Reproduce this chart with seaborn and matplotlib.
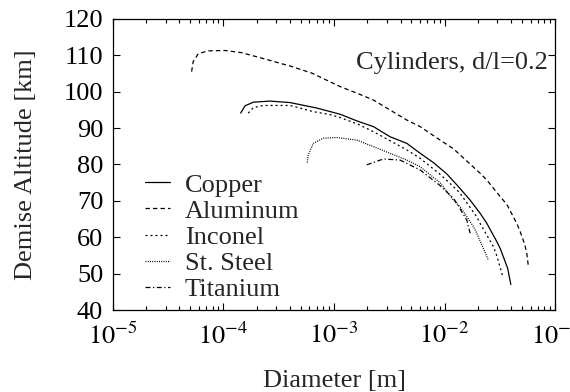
import numpy as np
import pandas as pd
import matplotlib
matplotlib.use("Agg")
import matplotlib.pyplot as plt
import seaborn as sns

materials = ["Copper", "Aluminum", "Inconel", "St. Steel", "Titanium"]

copper_d = [1.432e-4, 1.567e-4, 1.862e-4, 2.636e-4, 4.000e-4, 6.966e-4, 1.132e-3, 1.660e-3,
            2.270e-3, 3.214e-3, 4.550e-3, 5.998e-3, 7.925e-3, 1.047e-2, 1.334e-2, 1.702e-2,
            2.094e-2, 2.410e-2, 2.965e-2, 3.177e-2, 3.715e-2, 3.972e-2]
copper_h = [94.1, 96.1, 97.1, 97.4, 97.0, 95.5, 93.8, 91.8,
            90.4, 87.6, 85.8, 83.1, 80.5, 77.4, 73.9, 70.2,
            66.6, 63.8, 58.8, 57.0, 51.5, 47.0]

aluminum_d = [5.152e-5, 5.333e-5, 5.916e-5, 7.278e-5, 1.033e-4, 1.462e-4, 2.547e-4, 4.140e-4,
              6.281e-4, 1.132e-3, 1.603e-3, 2.270e-3, 4.550e-3, 5.998e-3, 9.099e-3, 1.202e-2,
              2.094e-2, 2.410e-2, 3.177e-2, 3.656e-2, 4.498e-2, 4.819e-2, 5.309e-2, 5.546e-2,
              5.728e-2]
aluminum_h = [105.5, 108.3, 110.4, 111.2, 111.3, 110.7, 108.7, 106.9,
              105.1, 101.4, 99.6, 97.7, 92.2, 90.4, 86.7, 84.3,
              77.6, 75.7, 71.2, 69.0, 63.8, 61.6, 58.0, 55.4,
              51.9]

inconel_d = [1.675e-4, 1.862e-4, 2.291e-4, 4.000e-4, 6.501e-4, 9.204e-4, 1.132e-3, 1.660e-3,
             2.270e-3, 4.550e-3, 5.998e-3, 9.099e-3, 1.202e-2, 1.380e-2, 1.954e-2, 2.094e-2,
             2.767e-2, 2.965e-2, 3.365e-2]
inconel_h = [94.1, 95.6, 96.2, 96.2, 94.5, 93.7, 92.9, 91.0,
             89.0, 84.0, 81.7, 77.3, 73.9, 72.1, 65.6, 63.8,
             57.4, 54.9, 49.1]

steel_d = [5.728e-4, 5.848e-4, 6.501e-4, 7.998e-4, 1.057e-3, 1.603e-3, 2.270e-3, 4.550e-3,
           5.998e-3, 9.099e-3, 1.202e-2, 1.380e-2, 1.824e-2, 1.954e-2, 2.489e-2]
steel_h = [80.5, 82.6, 85.8, 87.2, 87.4, 86.7, 84.9, 81.2,
           79.4, 75.0, 70.2, 68.4, 62.9, 61.1, 53.7]

titanium_d = [1.977e-3, 2.793e-3, 3.954e-3, 5.998e-3, 9.099e-3, 1.202e-2, 1.288e-2,
              1.589e-2, 1.702e-2]
titanium_h = [79.9, 81.5, 81.2, 78.5, 74.2, 70.7, 69.3, 64.7, 61.1]

xtick_labels = [r"$10^{-5}$", r"$10^{-4}$", r"$10^{-3}$", r"$10^{-2}$", r"$10^{-1}$"]

series = {
    "Copper": (copper_d, copper_h),
    "Aluminum": (aluminum_d, aluminum_h),
    "Inconel": (inconel_d, inconel_h),
    "St. Steel": (steel_d, steel_h),
    "Titanium": (titanium_d, titanium_h),
}

rows = []
for m in materials:
    d, h = series[m]
    for a, b in zip(d, h):
        rows.append({"Material": m, "Diameter": a, "Altitude": b})
df = pd.DataFrame(rows)

sns.set_style("ticks")
plt.rcParams["font.family"] = ["Liberation Serif", "DejaVu Serif"]
plt.rcParams["mathtext.fontset"] = "stix"

FS = 19

fig = plt.figure(figsize=(5.7, 3.92), dpi=100)
ax = fig.add_axes([0.198, 0.209, 0.776, 0.743])

dash_map = {
    "Copper": "",
    "Aluminum": (3.5, 2.5),
    "Inconel": (1.6, 2.4),
    "St. Steel": (0.8, 1.0),
    "Titanium": (4.0, 2.0, 1.0, 2.0),
}
palette = {m: "black" for m in materials}

sns.lineplot(data=df, x="Diameter", y="Altitude", hue="Material", style="Material",
             hue_order=materials, style_order=materials, palette=palette,
             dashes=dash_map, sort=False, estimator=None, units="Material",
             linewidth=0.9, ax=ax, legend=True)

ax.set_xscale("log")
ax.set_xlim(1e-5, 1e-1)
ax.set_ylim(40, 120)
ax.set_yticks(np.arange(40, 121, 10))
ax.set_xticks([1e-5, 1e-4, 1e-3, 1e-2, 1e-1])
ax.set_xticklabels(xtick_labels)
ax.tick_params(axis="both", which="both", direction="in", top=True, right=True,
               labelsize=FS, width=0.8, colors="black")
ax.tick_params(axis="y", which="major", length=5, pad=7)
ax.tick_params(axis="x", which="major", length=5, pad=9)
ax.tick_params(axis="x", which="minor", length=3)
for s in ax.spines.values():
    s.set_linewidth(0.9)
    s.set_color("black")

ax.set_xlabel("Diameter [m]", fontsize=FS, labelpad=15)
ax.set_ylabel("Demise Altitude [km]", fontsize=FS, labelpad=19)

ax.text(0.984, 0.849, "Cylinders, d/l=0.2", transform=ax.transAxes,
        ha="right", va="center", fontsize=FS)

handles, labels = ax.get_legend_handles_labels()
hl = [(h, l) for h, l in zip(handles, labels) if l in materials]
ax.legend([h for h, _ in hl], [l for _, l in hl], loc="lower left",
          bbox_to_anchor=(0.049, -0.005), frameon=False, fontsize=FS,
          handlelength=0.95, handletextpad=0.55, labelspacing=0.1, borderaxespad=0.0)

fig.savefig("out.png", dpi=100)
